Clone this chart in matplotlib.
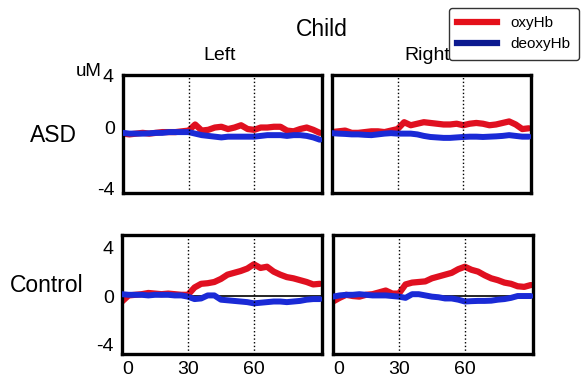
import matplotlib
matplotlib.use("Agg")
import matplotlib.pyplot as plt
from matplotlib.lines import Line2D
import numpy as np

plt.rcParams["font.family"] = ["Liberation Sans", "DejaVu Sans"]
plt.rcParams["axes.unicode_minus"] = False

# time axis (s), sampled every 3 s
t = np.arange(0, 91, 3)

asd_left_oxy = [-0.4, -0.45, -0.4, -0.35, -0.4, -0.35, -0.3, -0.3, -0.3, -0.25, -0.2,
                0.2, -0.2, -0.15, 0.0, 0.05, -0.1, 0.0, 0.15, -0.1, -0.15,
                0.0, 0.0, 0.05, 0.05, -0.2, -0.25, -0.1, 0.0, -0.15, -0.35]
asd_left_deoxy = [-0.35, -0.4, -0.4, -0.4, -0.38, -0.35, -0.35, -0.3, -0.3, -0.3, -0.3,
                  -0.4, -0.5, -0.55, -0.6, -0.65, -0.6, -0.6, -0.6, -0.6, -0.6,
                  -0.55, -0.5, -0.5, -0.5, -0.55, -0.5, -0.5, -0.55, -0.65, -0.8]
asd_right_oxy = [-0.3, -0.25, -0.2, -0.35, -0.35, -0.3, -0.25, -0.25, -0.3, -0.2, -0.1,
                 0.35, 0.15, 0.25, 0.35, 0.3, 0.25, 0.2, 0.2, 0.25, 0.15,
                 0.25, 0.3, 0.25, 0.15, 0.2, 0.3, 0.4, 0.2, -0.1, -0.05]
asd_right_deoxy = [-0.37, -0.4, -0.42, -0.45, -0.45, -0.48, -0.5, -0.45, -0.4, -0.37, -0.4,
                   -0.4, -0.4, -0.45, -0.55, -0.62, -0.65, -0.68, -0.68, -0.65, -0.62,
                   -0.6, -0.6, -0.62, -0.6, -0.58, -0.55, -0.5, -0.55, -0.6, -0.6]
ctl_left_oxy = [-0.45, 0.05, 0.1, 0.15, 0.25, 0.2, 0.15, 0.2, 0.15, 0.1, 0.1,
                0.7, 1.0, 1.05, 1.15, 1.4, 1.75, 1.9, 2.05, 2.25, 2.6,
                2.3, 2.4, 2.0, 1.75, 1.55, 1.45, 1.3, 1.15, 0.95, 1.0]
ctl_left_deoxy = [0.15, 0.1, 0.1, 0.1, 0.05, 0.1, 0.1, 0.1, 0.05, 0.05, -0.05,
                  -0.25, -0.2, 0.05, 0.05, -0.3, -0.35, -0.4, -0.45, -0.5, -0.6,
                  -0.55, -0.5, -0.45, -0.45, -0.5, -0.45, -0.4, -0.3, -0.25, -0.25]
ctl_right_oxy = [-0.45, -0.15, 0.1, 0.0, -0.05, 0.1, 0.15, 0.3, 0.45, 0.2, 0.2,
                 0.95, 1.1, 1.15, 1.2, 1.45, 1.6, 1.75, 1.9, 2.2, 2.4,
                 2.15, 2.0, 1.7, 1.45, 1.3, 1.1, 1.0, 0.8, 0.75, 0.9]
ctl_right_deoxy = [-0.05, 0.05, 0.1, 0.1, 0.15, 0.1, 0.05, 0.05, 0.05, 0.0, -0.05,
                   -0.15, 0.15, 0.15, 0.05, -0.05, -0.1, -0.2, -0.2, -0.3, -0.45,
                   -0.42, -0.4, -0.4, -0.38, -0.3, -0.25, -0.15, 0.0, 0.0, 0.0]

RED = "#e01020"
BLUE = "#1a2ad6"

W, H = 582, 383
fig = plt.figure(figsize=(W / 100, H / 100), dpi=100)


def px_axes(x0, y0, x1, y1):
    return fig.add_axes([x0 / W, 1 - y1 / H, (x1 - x0) / W, (y1 - y0) / H])


panels = [
    (123, 75, 322, 193, asd_left_oxy, asd_left_deoxy, "top", True),
    (332, 75, 531, 193, asd_right_oxy, asd_right_deoxy, "top", False),
    (122, 235, 322, 354, ctl_left_oxy, ctl_left_deoxy, "bottom", True),
    (333, 235, 533, 354, ctl_right_oxy, ctl_right_deoxy, "bottom", False),
]

for x0, y0, x1, y1, oxy, deoxy, row, first in panels:
    ax = px_axes(x0, y0, x1, y1)
    for v in (30, 60):
        ax.axvline(v, color="black", ls=":", lw=1.0, zorder=4)
    if row == "bottom":
        ax.axhline(0, color="black", lw=1.2, zorder=1)
    ax.plot(t, oxy, color=RED, lw=4.5, solid_capstyle="round", zorder=2)
    ax.plot(t, deoxy, color=BLUE, lw=4.3, solid_capstyle="round", zorder=3)
    ax.set_xlim(0, 91)
    if row == "top":
        ax.set_ylim(-4.3, 3.45)
        ax.set_yticks([-4, 0])
        ax.set_xticks([])
    else:
        ax.set_ylim(-4.75, 5)
        ax.set_yticks([-4, 0, 4])
        ax.set_xticks([0, 30, 60])
        ax.set_xticklabels(["0", "30", "60"])
        ax.get_xticklabels()[0].set_ha("left")
    ax.tick_params(axis="y", length=0, labelsize=14, pad=6)
    ax.tick_params(axis="x", length=0, labelsize=14, pad=5)
    if not first:
        ax.set_yticklabels([])
    for s in ax.spines.values():
        s.set_linewidth(2.4)
        s.set_color("black")

fig.text(322 / W, 1 - 30 / H, "Child", ha="center", va="center", fontsize=16.5)
fig.text(220 / W, 1 - 56 / H, "Left", ha="center", va="center", fontsize=14)
fig.text(427 / W, 1 - 56 / H, "Right", ha="center", va="center", fontsize=14)
fig.text(53 / W, 1 - 135 / H, "ASD", ha="center", va="center", fontsize=16.5)
fig.text(47 / W, 1 - 286 / H, "Control", ha="center", va="center", fontsize=16.5)
fig.text(89 / W, 1 - 71 / H, "uM", ha="center", va="center", fontsize=13.5)
fig.text(108 / W, 1 - 77 / H, "4", ha="center", va="center", fontsize=14)

handles = [Line2D([], [], color="#e4101a", lw=4.5), Line2D([], [], color="#0c1a90", lw=4.5)]
fig.legend(handles, ["oxyHb", "deoxyHb"], loc="upper right",
           bbox_to_anchor=(579 / W, 1 - 8 / H), fontsize=11, handlelength=2.6,
           frameon=True, fancybox=True, edgecolor="#333333", framealpha=1,
           borderpad=0.55, labelspacing=0.45, handletextpad=0.9, borderaxespad=0)

fig.savefig("out.png", dpi=100)
